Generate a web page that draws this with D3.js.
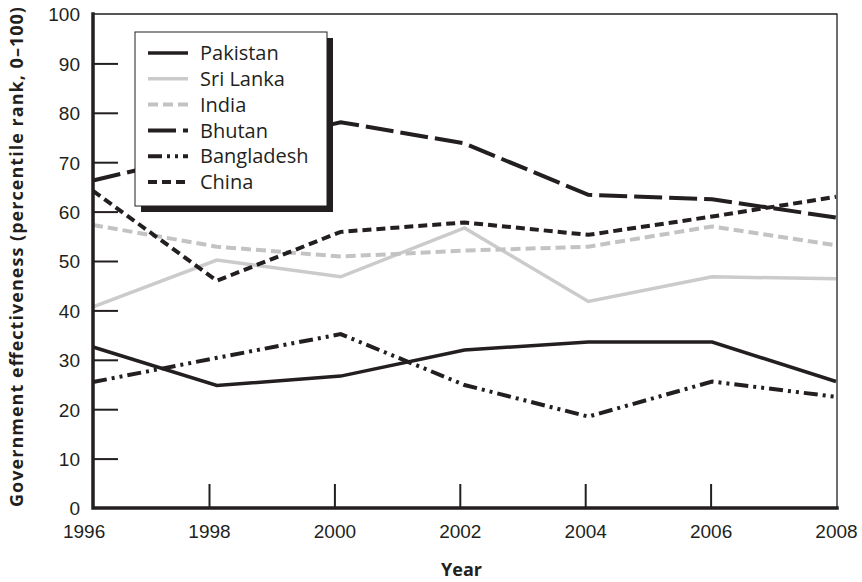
<!doctype html>
<html lang="en">
<head>
<meta charset="utf-8">
<title>Government effectiveness</title>
<style>
  body { margin: 0; background: #fff; font-family: 'Open Sans', sans-serif; }
  svg text { fill: #231f20; }
</style>
</head>
<body>
<svg width="862" height="582"></svg>
<script src="https://d3js.org/d3.v7.min.js"></script>
<script>
// data
var years = [1996, 1998, 2000, 2002, 2004, 2006, 2008];
var pakistan   = [32.6, 24.8, 26.7, 32.0, 33.6, 33.6, 25.6];
var sriLanka   = [40.7, 50.2, 46.8, 56.7, 41.8, 46.8, 46.4];
var india      = [57.3, 52.9, 50.9, 52.1, 52.9, 57.0, 53.2];
var bhutan     = [66.3, 72.2, 78.1, 73.8, 63.4, 62.5, 58.8];
var bangladesh = [25.5, 30.4, 35.2, 24.9, 18.5, 25.6, 22.5];
var china      = [64.2, 46.0, 55.9, 57.8, 55.3, 59.0, 63.0];
var yTicks = [0, 10, 20, 30, 40, 50, 60, 70, 80, 90, 100];
var xTicks = [1996, 1998, 2000, 2002, 2004, 2006, 2008];

var ink = "#231f20";
var series = [
  {name: "Pakistan",   values: pakistan,   color: ink,       width: 3.5, dash: null},
  {name: "Sri Lanka",  values: sriLanka,   color: "#cbcbcb", width: 3.5, dash: null},
  {name: "India",      values: india,      color: "#c3c3c6", width: 4,   dash: "10,5"},
  {name: "Bhutan",     values: bhutan,     color: ink,       width: 4,   dash: "28,7"},
  {name: "Bangladesh", values: bangladesh, color: ink,       width: 4,   dash: "14,5,3,5,3,5"},
  {name: "China",      values: china,      color: ink,       width: 4,   dash: "9,5"}
];

var svg = d3.select("svg");
var plot = {left: 93, right: 837, top: 14, bottom: 508};

// the printed ticks sit a little left of the plotted points
var xAxisScale = d3.scaleLinear().domain([1996, 2008]).range([83.6, 836]);
var x = d3.scaleLinear().domain([1996, 2008]).range([plot.left, 836]);
var y = d3.scaleLinear().domain([0, 100]).range([plot.bottom, plot.top]);

// frame (top and right thin)
svg.append("path")
    .attr("d", "M" + plot.left + "," + plot.top + "H" + plot.right + "V" + plot.bottom)
    .attr("fill", "none")
    .attr("stroke", ink)
    .attr("stroke-width", 1.3);

// lines
var line = d3.line()
    .x(function(d, i) { return x(years[i]); })
    .y(function(d) { return y(d); });

svg.append("g")
  .selectAll("path")
  .data(series)
  .enter().append("path")
    .attr("d", function(d) { return line(d.values); })
    .attr("fill", "none")
    .attr("stroke", function(d) { return d.color; })
    .attr("stroke-width", function(d) { return d.width; })
    .attr("stroke-dasharray", function(d) { return d.dash; })
    .attr("stroke-linejoin", "miter");

// y axis: inner ticks, labels outside
var yAxis = svg.append("g")
    .attr("transform", "translate(" + plot.left + ",0)")
    .call(d3.axisRight(y).tickValues(yTicks).tickSize(25).tickFormat(""));
yAxis.select(".domain").remove();
yAxis.selectAll(".tick line")
    .attr("stroke", ink)
    .attr("stroke-width", 2)
    .filter(function(d) { return d === 0 || d === 100; }).remove();
yAxis.selectAll(".tick").append("text")
    .attr("x", -13)
    .attr("dy", "0.36em")
    .attr("text-anchor", "end")
    .attr("font-size", "19px")
    .text(function(d) { return d; });

// x axis: inner ticks pointing up
var xAxis = svg.append("g")
    .attr("transform", "translate(0," + plot.bottom + ")")
    .call(d3.axisTop(xAxisScale).tickValues(xTicks).tickSize(24).tickFormat(""));
xAxis.select(".domain").remove();
xAxis.selectAll(".tick line")
    .attr("stroke", ink)
    .attr("stroke-width", 2)
    .filter(function(d) { return d === 1996 || d === 2008; }).remove();
xAxis.selectAll(".tick").append("text")
    .attr("y", 30)
    .attr("text-anchor", "middle")
    .attr("font-size", "19px")
    .text(function(d) { return d; });

// thick axis lines
svg.append("path")
    .attr("d", "M" + plot.left + "," + plot.top + "V" + plot.bottom + "H" + plot.right)
    .attr("fill", "none")
    .attr("stroke", ink)
    .attr("stroke-width", 3.5)
    .attr("stroke-linecap", "square");

// axis titles
svg.append("text")
    .attr("x", (plot.left + 836) / 2 - 3)
    .attr("y", 576)
    .attr("text-anchor", "middle")
    .attr("font-size", "18px")
    .attr("font-weight", "bold")
    .text("Year");

svg.append("text")
    .attr("transform", "translate(23,257) rotate(-90)")
    .attr("text-anchor", "middle")
    .attr("font-size", "18px")
    .attr("font-weight", "bold")
    .attr("textLength", 500)
    .attr("lengthAdjust", "spacing")
    .text("Government effectiveness (percentile rank, 0\u2013100)");

// legend with drop shadow
var lx = 135, ly = 32, lw = 192, lh = 174;
svg.append("rect")
    .attr("x", lx + 6).attr("y", ly + 6)
    .attr("width", lw).attr("height", lh)
    .attr("fill", ink);
svg.append("rect")
    .attr("x", lx).attr("y", ly)
    .attr("width", lw).attr("height", lh)
    .attr("fill", "#fff")
    .attr("stroke", ink)
    .attr("stroke-width", 1);

var legend = svg.append("g")
  .selectAll("g")
  .data(series)
  .enter().append("g")
    .attr("transform", function(d, i) { return "translate(" + lx + "," + (ly + 21 + i * 25.8) + ")"; });

legend.append("line")
    .attr("x1", 13).attr("x2", 53)
    .attr("stroke", function(d) { return d.color; })
    .attr("stroke-width", function(d) { return d.width; })
    .attr("stroke-dasharray", function(d) { return d.dash; });

legend.append("text")
    .attr("x", 65)
    .attr("dy", "0.36em")
    .attr("font-size", "20px")
    .text(function(d) { return d.name; });
</script>
</body>
</html>
